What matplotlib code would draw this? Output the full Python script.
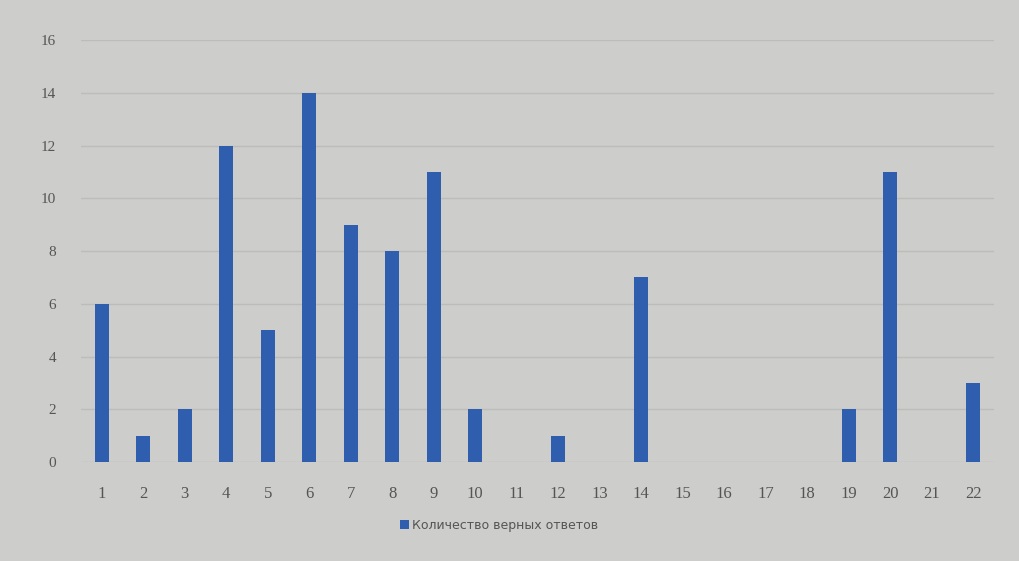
import matplotlib
matplotlib.use("Agg")
import matplotlib.pyplot as plt
import numpy as np

# номер задания и число верных ответов
questions = [str(i) for i in range(1, 23)]
correct = [6, 1, 2, 12, 5, 14, 9, 8, 11, 2, 0, 1, 0, 7, 0, 0, 0, 0, 2, 11, 0, 3]
yticks = [0, 2, 4, 6, 8, 10, 12, 14, 16]
legend_label = 'Количество верных ответов'

bg = '#cdcdcb'
bar_col = '#2f5eae'

fig = plt.figure(figsize=(10.19, 5.61), dpi=100, facecolor=bg)
ax = fig.add_axes([0.0795, 0.1765, 0.896, 0.752], facecolor=bg)

x = np.arange(len(questions))
ax.bar(x, correct, width=0.34, color=bar_col, label=legend_label, zorder=3)

ax.set_xlim(-0.5, len(questions) - 0.5)
ax.set_ylim(0, 16)
ax.set_yticks(yticks)
ax.set_xticks(x)
ax.set_xticklabels(questions)
ax.grid(axis='y', color='#bcbcbc', linewidth=1.0, zorder=0)
for s in ax.spines.values():
    s.set_visible(False)
ax.tick_params(axis='both', length=0, labelcolor='#555555')
ax.tick_params(axis='y', pad=18, labelsize=11)
ax.tick_params(axis='x', pad=17, labelsize=12)
for lab in ax.get_xticklabels() + ax.get_yticklabels():
    lab.set_family('Liberation Serif')

fig.legend(loc='center', bbox_to_anchor=(0.49, 0.064), frameon=False,
           fontsize=9, labelcolor='#555555', handlelength=0.7, handleheight=0.7,
           handletextpad=0.3)

fig.savefig('out.png', dpi=100, facecolor=bg)
